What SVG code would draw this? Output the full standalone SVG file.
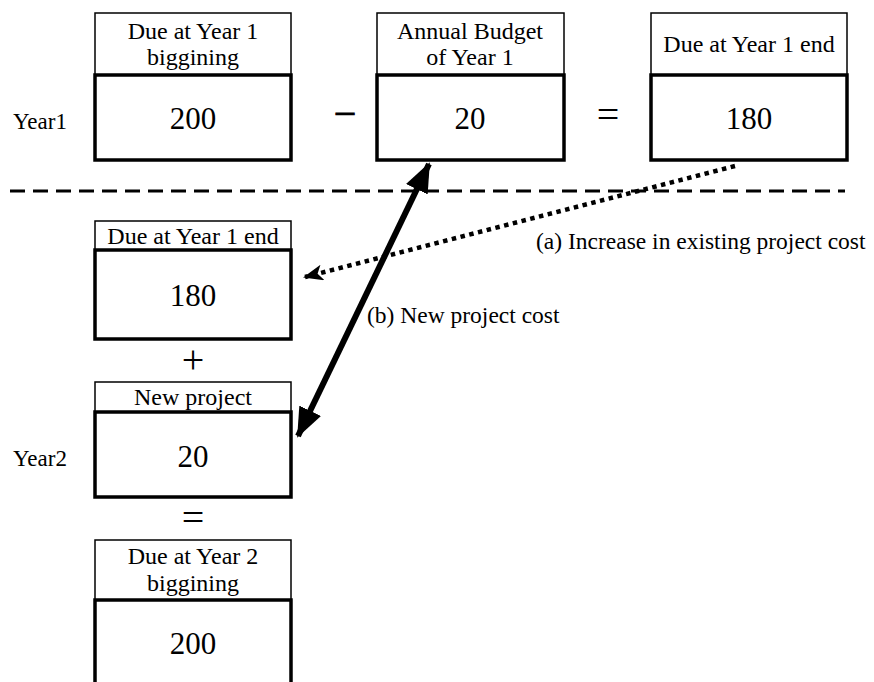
<svg xmlns="http://www.w3.org/2000/svg" width="874" height="682" viewBox="0 0 874 682">
<style>
text{font-family:"Liberation Serif","Times New Roman",serif;fill:#000}
.hd{fill:#fff;stroke:#000;stroke-width:1.5}
.mb{fill:#fff;stroke:#000;stroke-width:3.5}
.ht{font-size:24px;text-anchor:middle}
.num{font-size:31px;text-anchor:middle}
.op{font-size:40px;text-anchor:middle}
.lbl{font-size:23.5px}
.yr{font-size:23px}
</style>
<defs>
<marker id="ah" markerUnits="userSpaceOnUse" markerWidth="30" markerHeight="24" refX="28" refY="12" orient="auto-start-reverse" viewBox="0 0 30 24">
<path d="M0,0 L30,12 L0,24 Z" fill="#000"/>
</marker>
<marker id="ahs" markerUnits="userSpaceOnUse" markerWidth="20" markerHeight="16" refX="18" refY="8" orient="auto" viewBox="0 0 20 16">
<path d="M0,0 L20,8 L0,16 L5,8 Z" fill="#000"/>
</marker>
</defs>
<text class="yr" x="13" y="129">Year1</text>
<text class="yr" x="13" y="466">Year2</text>
<g id="box-y1-begin">
<rect class="hd" x="95" y="13" width="196" height="62"/>
<text class="ht" x="193" y="39">Due at Year 1</text>
<text class="ht" x="193" y="65">biggining</text>
<rect class="mb" x="95" y="75" width="196" height="85"/>
<text class="num" x="193" y="129">200</text>
</g>
<text class="op" x="345" y="127" stroke="#000" stroke-width="0.8">−</text>
<g id="box-y1-budget">
<rect class="hd" x="377" y="13" width="187" height="62"/>
<text class="ht" x="470" y="39">Annual Budget</text>
<text class="ht" x="470" y="65">of Year 1</text>
<rect class="mb" x="377" y="75" width="187" height="85"/>
<text class="num" x="470" y="129">20</text>
</g>
<text class="op" x="608" y="128">=</text>
<g id="box-y1-end">
<rect class="hd" x="651" y="13" width="196" height="62"/>
<text class="ht" x="749" y="52">Due at Year 1 end</text>
<rect class="mb" x="651" y="75" width="196" height="85"/>
<text class="num" x="749" y="129">180</text>
</g>
<line x1="10" y1="191" x2="845" y2="191" stroke="#000" stroke-width="3" stroke-dasharray="15 8"/>
<g id="box-y2-carry">
<rect class="hd" x="95" y="221" width="196" height="29"/>
<text class="ht" x="193" y="244">Due at Year 1 end</text>
<rect class="mb" x="95" y="250" width="196" height="89"/>
<text class="num" x="193" y="306">180</text>
</g>
<text class="op" x="193" y="373">+</text>
<g id="box-y2-new">
<rect class="hd" x="95" y="382" width="196" height="30"/>
<text class="ht" x="193" y="405">New project</text>
<rect class="mb" x="95" y="412" width="196" height="85"/>
<text class="num" x="193" y="467">20</text>
</g>
<text class="op" x="193" y="531">=</text>
<g id="box-y2-begin">
<rect class="hd" x="95" y="540" width="196" height="60"/>
<text class="ht" x="193" y="564">Due at Year 2</text>
<text class="ht" x="193" y="591">biggining</text>
<rect class="mb" x="95" y="600" width="196" height="100"/>
<text class="num" x="193" y="654">200</text>
</g>
<g id="connectors">
<line x1="735" y1="166" x2="305" y2="277" stroke="#000" stroke-width="4.5" stroke-dasharray="4.5 4.5" marker-end="url(#ahs)"/>
<line x1="298" y1="436" x2="429" y2="164" stroke="#000" stroke-width="6" marker-start="url(#ah)" marker-end="url(#ah)"/>
<text class="lbl" x="536" y="249">(a) Increase in existing project cost</text>
<text class="lbl" x="367" y="323">(b) New project cost</text>
</g>
</svg>
